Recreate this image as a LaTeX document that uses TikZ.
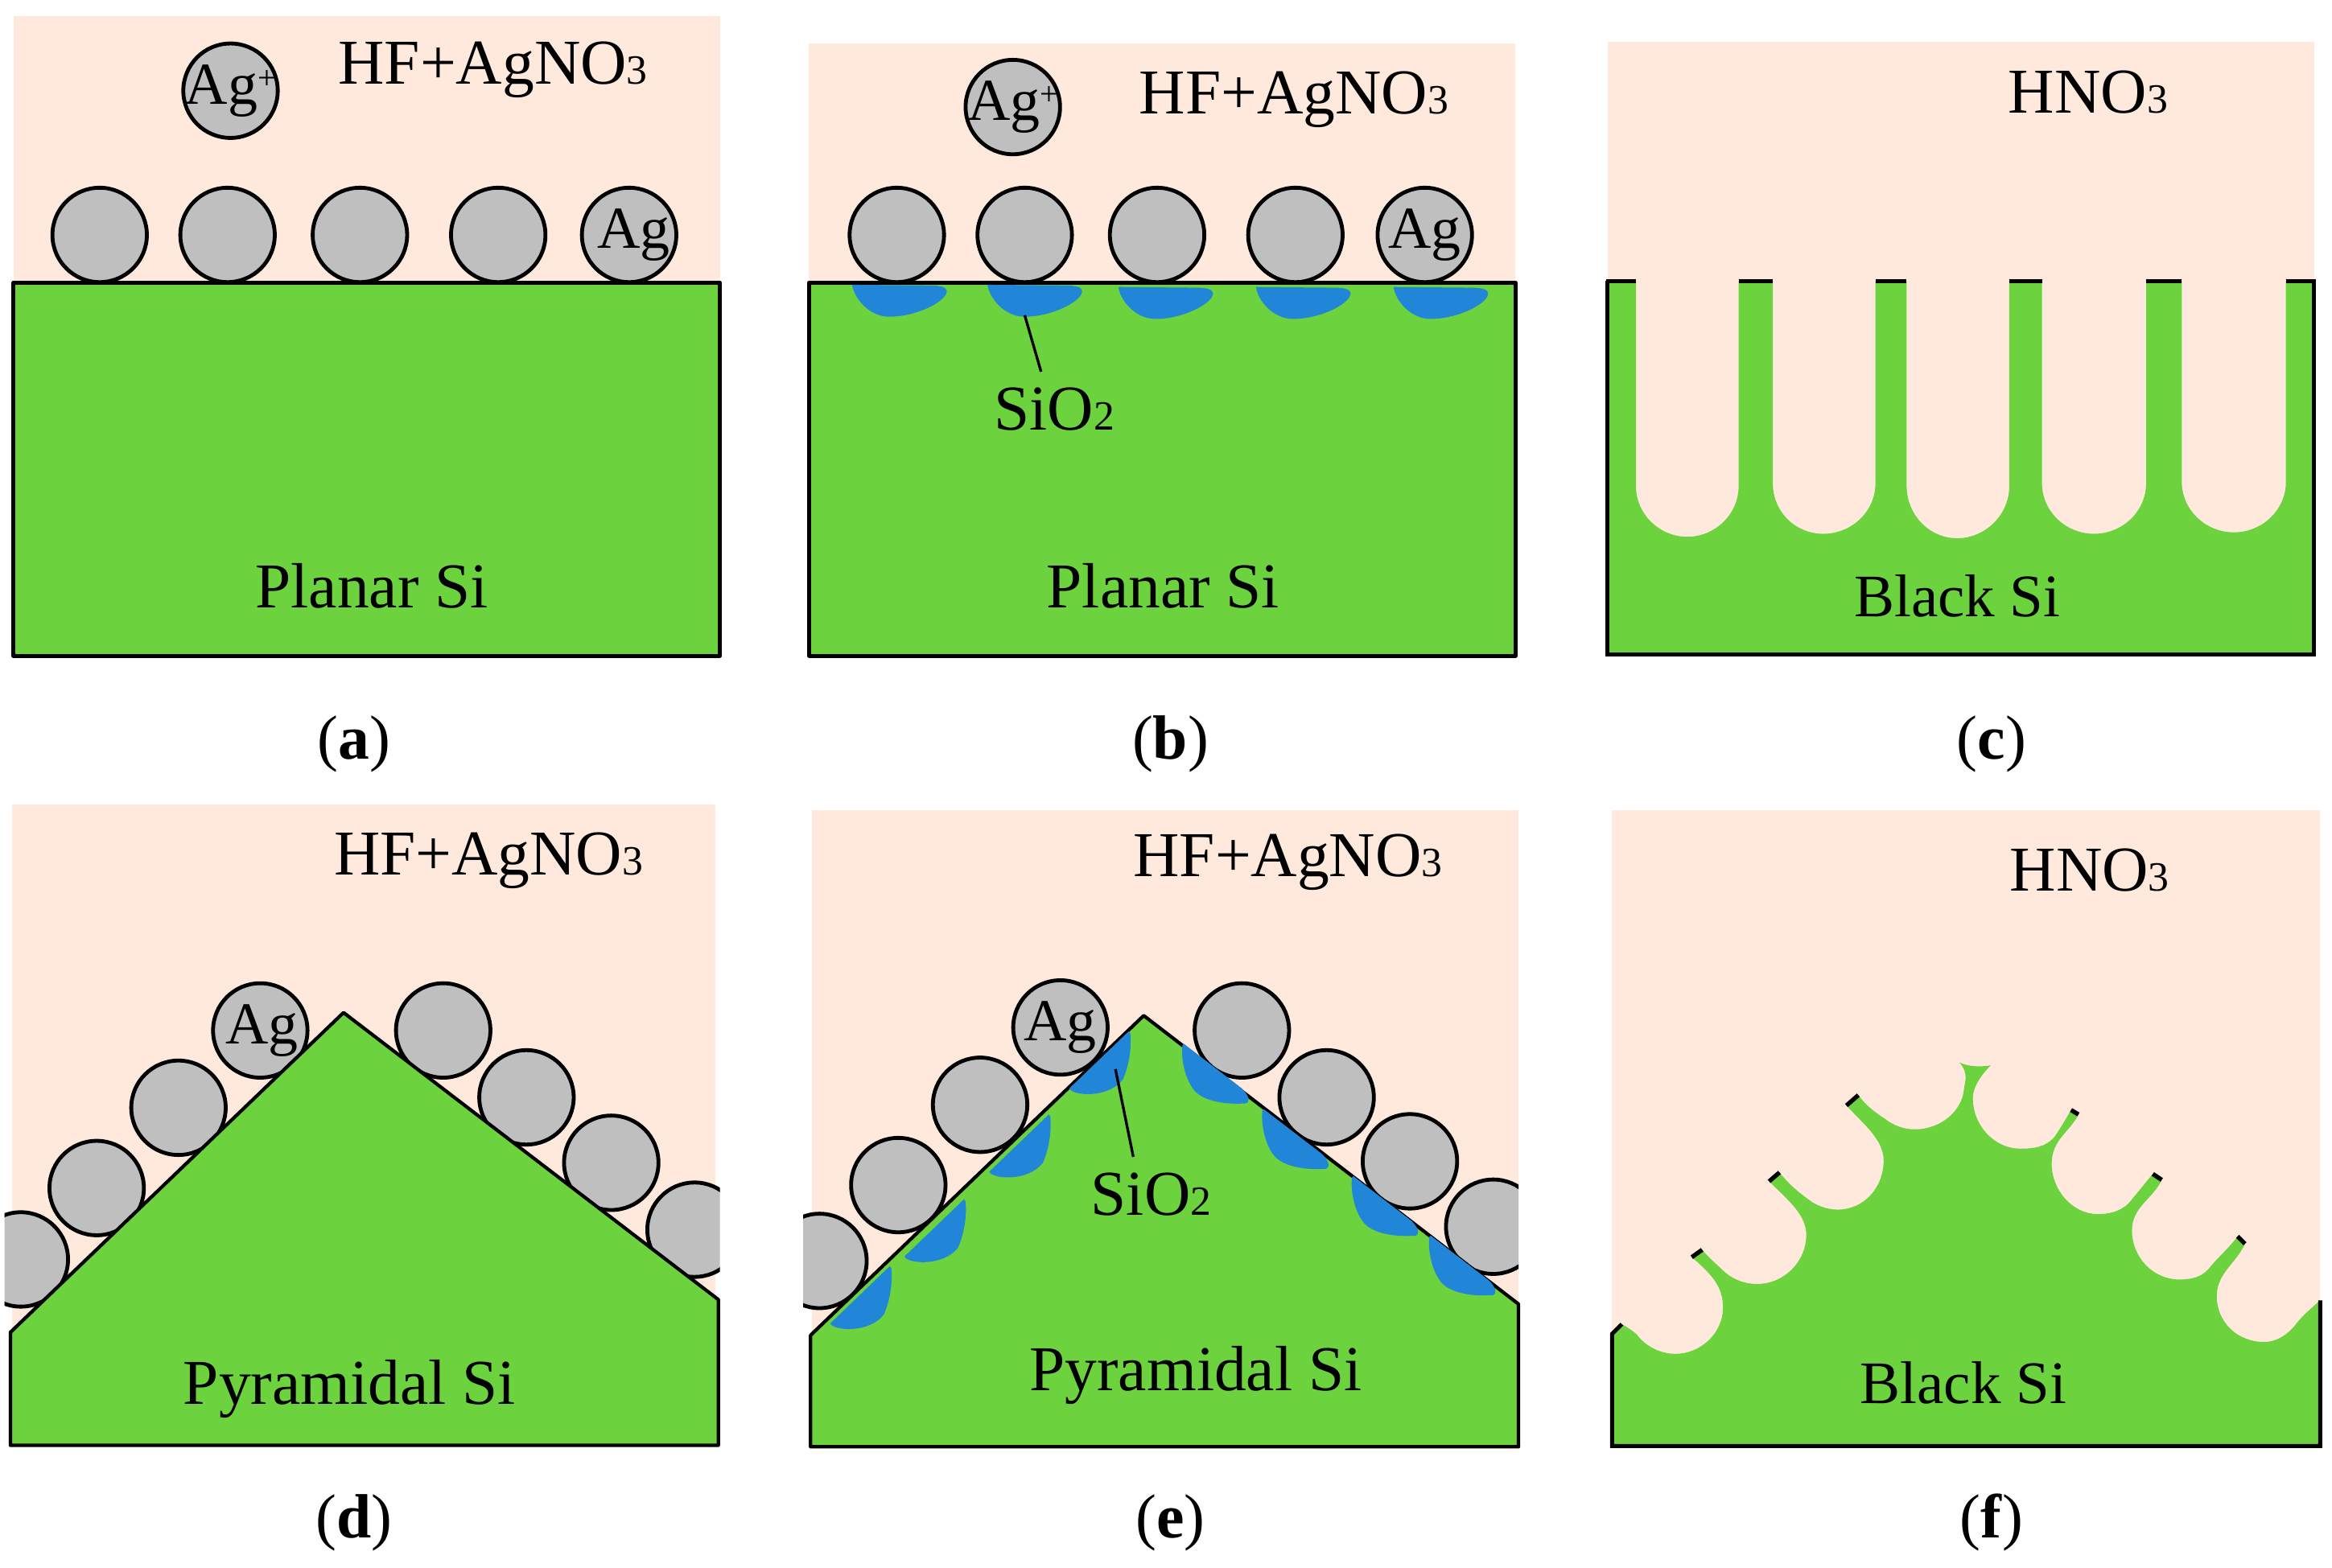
\documentclass[tikz,border=0pt]{standalone}
\usepackage{fontspec}
\setmainfont{Liberation Serif}
\definecolor{skyc}{HTML}{FEE9DC}
\definecolor{siC}{HTML}{6CD33F}
\definecolor{agC}{HTML}{BFBFBF}
\definecolor{oxC}{HTML}{2186D8}
\newcommand{\subthree}{{\fontsize{14}{14}\selectfont 3}}
\newcommand{\subtwo}{{\fontsize{14}{14}\selectfont 2}}
\newcommand{\plusup}{\raisebox{0.55ex}{\fontsize{11}{11}\selectfont +}}
\newcommand{\agtext}[1][0pt]{\makebox[0pt]{\kern#1 Ag}}
\newcommand{\agplus}{\makebox[0pt]{Ag\plusup}}
\tikzset{
  sky/.style={fill=skyc,draw=none},
  sibody/.style={fill=siC,draw=black,line width=1.35pt,line join=round},
  pyrbody/.style={sibody,line width=1.15pt},
  siflat/.style={fill=siC,draw=none},
  outline/.style={draw=black,line width=1.35pt,line join=miter},
  tick/.style={draw=black,line width=1.45pt},
  oxide/.style={fill=oxC,draw=none},
  pointer/.style={draw=black,line width=0.9pt},
  particle/.style={circle,fill=agC,draw=black,line width=1.3pt,minimum size=63.5*0.5pt,inner sep=0pt,font=\fontsize{20}{20}\selectfont},
  label/.style={inner sep=0pt,font=\fontsize{21.5}{24}\selectfont,text=black},
  blacklabel/.style={inner sep=0pt,font=\fontsize{20.3}{24}\selectfont,text=black},
  caption/.style={inner sep=0pt,font=\fontsize{21}{24}\selectfont,text=black}
}
\begin{document}
\begin{tikzpicture}[x=0.5pt,y=-0.5pt]
\useasboundingbox (0,0) rectangle (1568,1054.5);
% ---------- panel a
\fill[sky] (9,11) rectangle (484,190);
\node[particle] (a0) at (155,61) {\agplus};
\node[particle] (a1) at (67,158) {};
\node[particle] (a2) at (153,158) {};
\node[particle] (a3) at (242,158) {};
\node[particle] (a4) at (335,158) {};
\node[particle] (a5) at (423,158) {\agtext[3pt]};
\draw[sibody] (9,190) rectangle (484,441);
\node[label] (atxt) at (331.5,47) {HF+AgNO\subthree};
\node[label] (asi) at (250,394) {Planar Si};
\node[caption] (acap) at (238,500.5) {(\textbf{a})};
% ---------- panel b
\fill[sky] (544,29) rectangle (1019,190);
\node[particle] (b0) at (681,72) {\agplus};
\node[particle] (b1) at (603,158) {};
\node[particle] (b2) at (689,158) {};
\node[particle] (b3) at (778,158) {};
\node[particle] (b4) at (871,158) {};
\node[particle] (b5) at (958,158) {\agtext};
\draw[sibody] (544,190) rectangle (1019,441);
\foreach \dx/\dy in {0/0,91/0,179/1.5,271.5/1.5,364/1.5}
  \fill[oxide,shift={(\dx*0.5pt,-\dy*0.5pt)}] (573,191.5) .. controls (574,200) and (584,213) .. (598,213)
     .. controls (614,213) and (632,205) .. (636,198) .. controls (638,194) and (635,192.5) .. (628,192) -- cycle;
\coordinate (bs1) at (689,212);
\coordinate (bs2) at (700,250);
\draw[pointer] (bs1) -- (bs2);
\node[label] (bsio) at (709,275) {SiO\subtwo};
\node[label] (btxt) at (870,67) {HF+AgNO\subthree};
\node[label] (bsi) at (782,394) {Planar Si};
\node[caption] (bcap) at (787,500.5) {(\textbf{b})};
% ---------- panel c
\fill[sky] (1081,28) rectangle (1556,370);
\fill[siflat] (1081,189) -- (1100,189) -- (1100,327) .. controls (1100,346) and (1116,361) .. (1134.5,361) .. controls (1153,361) and (1169,346) .. (1169,327)
 -- (1169,189) -- (1192,189) -- (1192,325) .. controls (1192,344) and (1207,359) .. (1226,359) .. controls (1245,359) and (1261,344) .. (1261,325)
 -- (1261,189) -- (1282,189) -- (1282,327) .. controls (1282,346) and (1297,362) .. (1316,362) .. controls (1335,362) and (1351,346) .. (1351,327)
 -- (1351,189) -- (1373,189) -- (1373,325) .. controls (1373,344) and (1389,359) .. (1408,359) .. controls (1427,359) and (1443,344) .. (1443,325)
 -- (1443,189) -- (1467,189) -- (1467,324) .. controls (1467,343) and (1483,358) .. (1502,358) .. controls (1521,358) and (1537,343) .. (1537,324)
 -- (1537,189) -- (1556,189) -- (1556,440) -- (1081,440) -- cycle;
\draw[outline] (1081,189) -- (1081,440) -- (1556,440) -- (1556,189);
\foreach \xa/\xb in {1080/1100,1169/1192,1261/1282,1351/1373,1443/1467,1537/1557}
  \draw[tick] (\xa,189) -- (\xb,189);
\node[label] (ctxt) at (1404,62) {HNO\subthree};
\node[blacklabel] (csi) at (1316,401) {Black Si};
\node[caption] (ccap) at (1339,500.5) {(\textbf{c})};
\begin{scope}[shift={(0,1)}]
% ---------- panel d
\fill[sky] (8,540) rectangle (481,895);
\begin{scope}
\clip (3,600) rectangle (484,960);
\node[particle] (d1) at (14,846) {};
\node[particle] (d2) at (65,798) {};
\node[particle] (d3) at (120,744) {};
\node[particle] (d4) at (175,692) {\agtext[1pt]};
\node[particle] (d5) at (298,692) {};
\node[particle] (d6) at (354,737) {};
\node[particle] (d7) at (411,781) {};
\node[particle] (d8) at (467,826) {};
\end{scope}
\draw[pyrbody] (7,895) -- (231,680) -- (483,873) -- (483,971) -- (7,971) -- cycle;
\node[label] (dtxt) at (328.5,578) {HF+AgNO\subthree};
\node[label] (dsi) at (235,933) {Pyramidal Si};
\node[caption] (dcap) at (238,1023) {(\textbf{d})};
% ---------- panel e
\fill[sky] (546,544) rectangle (1021,897);
\begin{scope}
\clip (540,600) rectangle (1021,960);
\node[particle] (e1) at (551,847) {};
\node[particle] (e2) at (604,796) {};
\node[particle] (e3) at (659,742) {};
\node[particle] (e4) at (713,690) {\agtext};
\node[particle] (e5) at (835,692) {};
\node[particle] (e6) at (892,737) {};
\node[particle] (e7) at (948,780) {};
\node[particle] (e8) at (1004,824) {};
\end{scope}
\draw[pyrbody] (545,897) -- (769,682) -- (1021,876) -- (1021,972) -- (545,972) -- cycle;
\foreach \dx/\dy in {0/0,-53.8/56,-110.8/113,-160.7/158}
  \fill[oxide,shift={(\dx*0.5pt,-\dy*0.5pt)}] (759,692.5) -- (719,731) .. controls (721,736) and (745,738) .. (755,725) .. controls (759,716) and (761,704) .. (760,694) -- cycle;
\foreach \dx/\dy in {0/0,53.8/44,114/89,166/129}
  \fill[oxide,shift={(\dx*0.5pt,-\dy*0.5pt)}] (796,701) -- (835,731) .. controls (839,735) and (841,739) .. (838,741) .. controls (825,742) and (808,740) .. (802,731) .. controls (797,724) and (794,712) .. (795,702) -- cycle;
\coordinate (es1) at (750,718);
\coordinate (es2) at (762,777);
\draw[pointer] (es1) -- (es2);
\node[label] (esio) at (774,802) {SiO\subtwo};
\node[label] (etxt) at (866,579) {HF+AgNO\subthree};
\node[label] (esi) at (804,924) {Pyramidal Si};
\node[caption] (ecap) at (787,1023) {(\textbf{e})};
% ---------- panel f
\fill[sky] (1084,544) rectangle (1560,920);
\begin{scope}[shift={(1.5,0.5)}]
\fill[siflat] (1082.5,971) -- (1082.5,895.5) -- (1089,889)
  .. controls (1094,892) and (1097,894) .. (1099,896)
  .. controls (1105,904) and (1115,909) .. (1125,909)
  .. controls (1142,909) and (1157,895) .. (1157,878)
  .. controls (1157,864) and (1150,856) .. (1136,844) -- (1143,839)
  .. controls (1148,845) and (1152,848) .. (1156,852)
  .. controls (1162,858) and (1170,862) .. (1180,862)
  .. controls (1198,862) and (1213,847) .. (1213,829)
  .. controls (1213,815) and (1200,805) .. (1188,793) -- (1195,787)
  .. controls (1202,796) and (1210,802) .. (1217,807)
  .. controls (1222,810) and (1228,812) .. (1234,812)
  .. controls (1252,812) and (1265,797) .. (1265,779)
  .. controls (1265,765) and (1252,755) .. (1240,742) -- (1248,735)
  .. controls (1254,743) and (1260,747) .. (1266,751)
  .. controls (1271,755) and (1278,758) .. (1286,758)
  .. controls (1304,758) and (1318,745) .. (1319,731)
  .. controls (1320,725) and (1322,720) .. (1316,713)
  .. controls (1322,716) and (1330,716) .. (1337,715)
  .. controls (1330,722) and (1325,730) .. (1325,737)
  .. controls (1325,755) and (1339,771) .. (1357,771)
  .. controls (1366,771) and (1374,770) .. (1380,763)
  .. controls (1384,757) and (1387,752) .. (1391,745) -- (1396,748)
  .. controls (1390,760) and (1378,765) .. (1378,781)
  .. controls (1378,799) and (1392,815) .. (1409,815)
  .. controls (1419,815) and (1427,812) .. (1432,805)
  .. controls (1437,799) and (1441,794) .. (1446,788) -- (1452,792)
  .. controls (1446,805) and (1432,810) .. (1432,826)
  .. controls (1432,844) and (1446,859) .. (1464,859)
  .. controls (1473,859) and (1480,857) .. (1485,850)
  .. controls (1491,843) and (1497,838) .. (1503,830) -- (1508,835)
  .. controls (1502,848) and (1489,855) .. (1489,870)
  .. controls (1489,888) and (1503,901) .. (1521,901)
  .. controls (1530,901) and (1538,895) .. (1543,888)
  .. controls (1548,882) and (1553,878) .. (1558.5,873)
  -- (1558.5,971) -- cycle;
\draw[outline] (1089,889) -- (1082.5,895.5) -- (1082.5,971) -- (1558.5,971) -- (1558.5,873);
\foreach \xa/\ya/\xb/\yb in {1136/844/1143/839,1188/793/1195/787,1240/742/1248/735,1391/745/1396/748,1446/788/1452/792,1503/830/1508/835}
  \draw[tick] (\xa,\ya) -- (\xb,\yb);
\end{scope}
\node[label] (ftxt) at (1405,584) {HNO\subthree};
\node[blacklabel] (fsi) at (1320,929) {Black Si};
\node[caption] (fcap) at (1339,1023) {(\textbf{f})};
\end{scope}
\end{tikzpicture}
\end{document}
